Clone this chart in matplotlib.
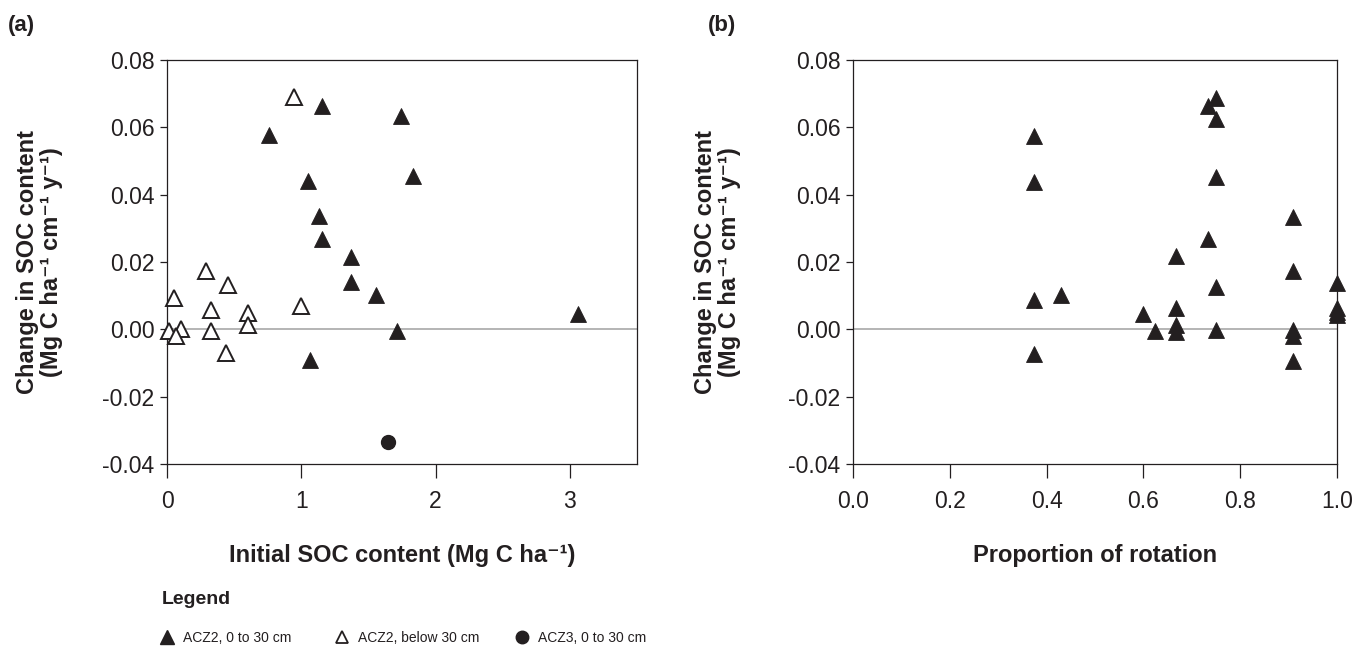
import matplotlib
matplotlib.use("Agg")
import matplotlib.pyplot as plt
from matplotlib.lines import Line2D

# ---------------- data ----------------
# Panel (a): initial SOC content vs change in SOC content
a_fill_x = [0.757, 1.155, 1.74, 1.05, 1.83, 1.135, 1.155, 1.37, 1.37, 1.556, 1.716, 1.062, 3.06]
a_fill_y = [0.0577, 0.0663, 0.0633, 0.0442, 0.0456, 0.0338, 0.0268, 0.0216, 0.0142, 0.0102, -0.0005, -0.0092, 0.0044]

a_open_x = [0.946, 0.289, 0.452, 0.049, 0.328, 0.600, 0.600, 1.000, 0.328, 0.012, 0.104, 0.069, 0.440]
a_open_y = [0.0690, 0.0174, 0.0131, 0.0092, 0.0057, 0.0049, 0.0014, 0.0068, -0.0005, -0.0004, 0.0000, -0.0020, -0.0071]

a_circ_x = [1.642]
a_circ_y = [-0.0336]

# Panel (b): proportion of rotation vs change in SOC content
b_x = [0.375, 0.375, 0.375, 0.375, 0.43, 0.60, 0.625, 0.667, 0.667, 0.667, 0.667,
       0.733, 0.733, 0.75, 0.75, 0.75, 0.75, 0.75, 0.909, 0.909, 0.909, 0.909, 0.909,
       1.0, 1.0, 1.0, 1.0]
b_y = [0.0573, 0.0438, 0.0087, -0.0072, 0.0101, 0.0045, -0.0006, 0.0217, 0.0064, 0.0012, -0.0008,
       0.0268, 0.0662, 0.0687, 0.0626, 0.0451, 0.0126, -0.0003, 0.0334, 0.0173, -0.0003, -0.0020, -0.0095,
       0.0138, 0.0062, 0.0052, 0.0042]

y_ticks = [-0.04, -0.02, 0.00, 0.02, 0.04, 0.06, 0.08]
y_ticklabels = ["-0.04", "-0.02", "0.00", "0.02", "0.04", "0.06", "0.08"]
a_xticks = [0, 1, 2, 3]
a_xticklabels = ["0", "1", "2", "3"]
b_xticks = [0.0, 0.2, 0.4, 0.6, 0.8, 1.0]
b_xticklabels = ["0.0", "0.2", "0.4", "0.6", "0.8", "1.0"]

legend_labels = ["ACZ2, 0 to 30 cm", "ACZ2, below 30 cm", "ACZ3, 0 to 30 cm"]

# ---------------- style ----------------
INK = "#231f20"
ZERO = "#a8a8a8"
plt.rcParams['font.family'] = ['Liberation Sans', 'DejaVu Sans']

fig = plt.figure(figsize=(13.56, 6.5), dpi=100)
ax_a = fig.add_axes([0.1232, 0.2862, 0.3466, 0.6215])
ax_b = fig.add_axes([0.6290, 0.2862, 0.3570, 0.6215])

ylabel = "Change in SOC content\n(Mg C ha\u207b\u00b9 cm\u207b\u00b9 y\u207b\u00b9)"
label_font = dict(fontsize=17, fontweight='bold', family=['Liberation Sans', 'DejaVu Sans'])

for ax in (ax_a, ax_b):
    ax.axhline(0, color=ZERO, lw=1.2, zorder=1)
    ax.set_ylim(-0.04, 0.08)
    ax.set_yticks(y_ticks)
    ax.set_yticklabels(y_ticklabels)
    for s in ax.spines.values():
        s.set_color(INK)
        s.set_linewidth(0.9)
    ax.tick_params(axis='y', direction='out', length=5, width=0.9, color=INK,
                   labelsize=16.5, pad=4, labelcolor=INK)
    ax.tick_params(axis='x', direction='out', length=10, width=0.9, color=INK,
                   labelsize=16.5, pad=9, labelcolor=INK)
    ax.set_ylabel(ylabel, linespacing=1.05, color=INK, **label_font)

tri_ms = 12
# panel a
ax_a.plot(a_fill_x, a_fill_y, linestyle='none', marker='^', ms=tri_ms,
          mfc=INK, mec=INK, mew=0.6, zorder=3, clip_on=False)
ax_a.plot(a_open_x, a_open_y, linestyle='none', marker='^', ms=tri_ms,
          mfc='white', mec=INK, mew=1.4, zorder=3, clip_on=False)
ax_a.plot(a_circ_x, a_circ_y, linestyle='none', marker='o', ms=10,
          mfc=INK, mec=INK, zorder=3, clip_on=False)
ax_a.set_xlim(0, 3.5)
ax_a.set_xticks(a_xticks)
ax_a.set_xticklabels(a_xticklabels)
ax_a.set_xlabel("Initial SOC content (Mg C ha\u207b\u00b9)", labelpad=22, color=INK, **label_font)
ax_a.yaxis.set_label_coords(-0.222, 0.5)

# panel b
ax_b.plot(b_x, b_y, linestyle='none', marker='^', ms=tri_ms,
          mfc=INK, mec=INK, mew=0.6, zorder=3, clip_on=False)
ax_b.set_xlim(0, 1.0)
ax_b.set_xticks(b_xticks)
ax_b.set_xticklabels(b_xticklabels)
ax_b.set_xlabel("Proportion of rotation", labelpad=22, color=INK, **label_font)
ax_b.yaxis.set_label_coords(-0.232, 0.5)

# panel titles
fig.text(0.006, 0.960, "(a)", fontsize=16, fontweight='bold', color=INK, va='center', ha='left')
fig.text(0.522, 0.960, "(b)", fontsize=16, fontweight='bold', color=INK, va='center', ha='left')

# legend
fig.text(0.1195, 0.077, "Legend", fontsize=14, fontweight='bold', color=INK, va='center', ha='left')
handles = [
    Line2D([], [], linestyle='none', marker='^', ms=9.5, mfc=INK, mec=INK),
    Line2D([], [], linestyle='none', marker='^', ms=9, mfc='white', mec=INK, mew=1.3),
    Line2D([], [], linestyle='none', marker='o', ms=9, mfc=INK, mec=INK),
]
legend_left_px = [161, 336, 516]
for h, lab, xpx in zip(handles, legend_labels, legend_left_px):
    leg = fig.legend([h], [lab], loc='center left',
                     bbox_to_anchor=(xpx / 1356, 1 - 638 / 650), frameon=False,
                     fontsize=10, handlelength=0.8, handletextpad=0.75,
                     borderaxespad=0, borderpad=0)
    for t in leg.get_texts():
        t.set_color(INK)

fig.savefig("out.png", dpi=100)
